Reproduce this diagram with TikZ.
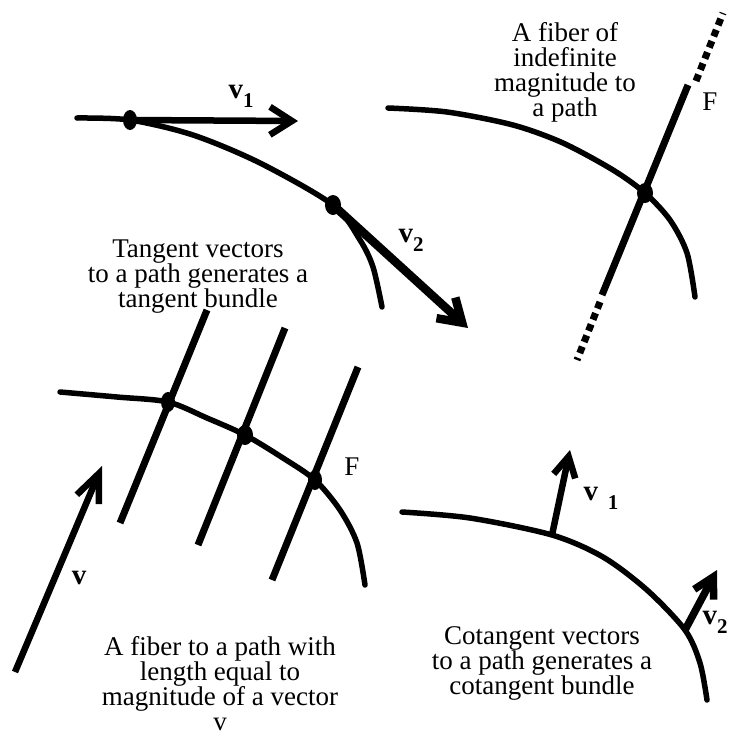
\documentclass[tikz,border=0pt]{standalone}
\usepackage{fontspec}
\setmainfont{Liberation Serif}
\usetikzlibrary{arrows.meta}

% rotulo de vetor com indice
\newcommand{\vsub}[2][]{v#1\raisebox{-9pt}{\fontsize{21}{21}\selectfont #2}}

\begin{document}
\begin{tikzpicture}[x=1pt, y=-1pt, >={Straight Barb[length=22pt,width=28pt]},
    curva/.style={line width=5.5pt, line cap=round},
    fibra/.style={line width=7pt},
    tracejada/.style={line width=7pt, dash pattern=on 7pt off 5pt},
    vetor/.style={line width=6.5pt, ->},
    texto/.style={align=center, inner sep=0pt, font=\fontsize{27}{25}\selectfont},
    rotulo/.style={inner sep=0pt, font=\fontsize{29}{29}\selectfont\bfseries}]

    \useasboundingbox (0,0) rectangle (730,739);

    % --- Painel 1: vetores tangentes ---
    \coordinate (A1) at (130,120); % ponto de v1
    \coordinate (A2) at (333,205); % ponto de v2
    \coordinate (T1) at (298,121);
    \coordinate (T2) at (468,328);

    \draw[curva] plot[smooth] coordinates {(77,118) (A1) (193,135) (260,163) (A2) (360,240) (373,267) (382,307)};
    \fill (A1) ellipse [x radius=7pt, y radius=10pt];
    \fill (A2) ellipse [x radius=8pt, y radius=10pt];

    \draw[vetor] (A1) -- (T1);
    \draw[vetor, line width=8.5pt] (A2) -- (T2);

    \node[rotulo] (lv1) at (241,96) {\vsub{1}};
    \node[rotulo] (lv2) at (411,240) {\vsub{2}};

    \node[texto] (txt1) at (198,277) {Tangent vectors\\to a path generates a\\tangent bundle};

    % --- Painel 2: fibra de magnitude indefinida ---
    \coordinate (B) at (645,193);
    \coordinate (Fb) at (602,295);
    \coordinate (Ft) at (688,85);

    \draw[curva] plot[smooth] coordinates {(388,108) (447,112) (513,125) (563,143) (613,170) (B) (670,220) (687,253) (695,297)};
    \draw[fibra] (Fb) -- (Ft);
    \draw[tracejada] (600,302) -- (577,360);
    \draw[tracejada] (696,81) -- (723,13);
    \fill (B) ellipse [x radius=8pt, y radius=10pt];

    \node[texto] (F1) at (710,102) {F};
    \node[texto] (txt2) at (565,72) {A fiber of\\indefinite\\magnitude to\\a path};

    % --- Painel 3: fibras de comprimento |v| ---
    \coordinate (C1) at (168,402);
    \coordinate (C2) at (245,435);
    \coordinate (C3) at (315,480);

    \draw[curva] plot[smooth] coordinates {(60,392) (117,397) (C1) (207,418) (C2) (283,458) (C3) (340,510) (357,543) (365,585)};
    \draw[fibra] (120,523) -- (207,310);
    \draw[fibra] (198,545) -- (285,328);
    \draw[fibra] (272,580) -- (358,367);
    \fill (C1) ellipse [x radius=7pt, y radius=10pt];
    \fill (C2) ellipse [x radius=8pt, y radius=10pt];
    \fill (C3) ellipse [x radius=7pt, y radius=10pt];

    \coordinate (Vb) at (15,672);
    \coordinate (Vt) at (102,466);
    \draw[vetor, -{Straight Barb[length=28pt,width=24pt]}] (Vb) -- (Vt);
    \node[rotulo] (lv) at (79,578) {v};

    \node[texto] (F2) at (352,467) {F};
    \node[texto] (txt3) at (220,684) {A fiber to a path with\\length equal to\\magnitude of a vector\\v};

    % --- Painel 4: vetores cotangentes ---
    \coordinate (D1) at (552,535);
    \coordinate (D2) at (685,630);

    \draw[curva] plot[smooth] coordinates {(402,512) (470,518) (D1) (603,557) (647,590) (D2) (700,663) (707,700)};
    \draw[vetor, -{Straight Barb[length=20pt,width=22pt]}] (D1) -- (570,450);
    \draw[vetor, line width=7.5pt, -{Straight Barb[length=20pt,width=22pt]}] (D2) -- (717,570);

    \node[rotulo] (lw1) at (601,498) {\vsub[\,\,]{1}};
    \node[rotulo] (lw2) at (715,622) {\vsub{2}};

    \node[texto] (txt4) at (542,663) {Cotangent vectors\\to a path generates a\\cotangent bundle};

\end{tikzpicture}
\end{document}
